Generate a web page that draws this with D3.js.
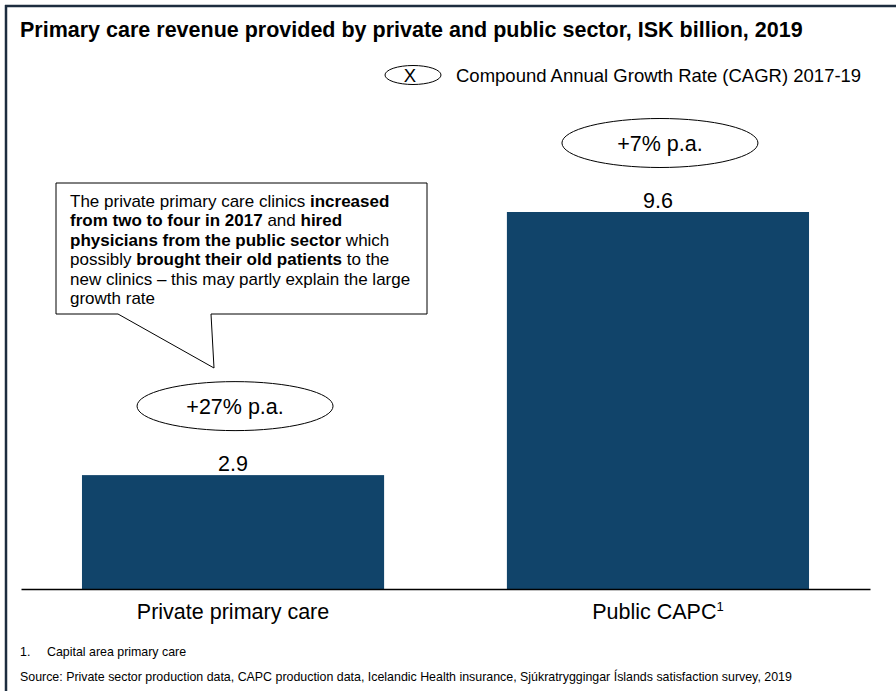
<!DOCTYPE html>
<html>
<head>
<meta charset="utf-8">
<script src="https://cdn.jsdelivr.net/npm/d3@7"></script>
<style>
  html, body { margin: 0; padding: 0; background: #fff; }
  svg { display: block; font-family: "Liberation Sans", Arial, sans-serif; }
</style>
</head>
<body>
<svg id="chart" width="896" height="691"></svg>
<script>
// Revenue by provider, ISK billion, 2019
const categories = ["Private primary care", "Public CAPC"];
const revenue = [2.9, 9.6];
const cagrLabels = ["+27% p.a.", "+7% p.a."];
const valueLabels = ["2.9", "9.6"];
const footnoteMarks = ["", "1"];

const W = 896, H = 691;
const svg = d3.select("#chart");
const navy = "#11446a";
const frame = "#1d2d3f";

// frame lines (top and left)
svg.append("line").attr("x1", 5).attr("x2", W).attr("y1", 6).attr("y2", 6)
  .attr("stroke", frame).attr("stroke-width", 2.5);
svg.append("line").attr("x1", 6).attr("x2", 6).attr("y1", 5).attr("y2", H)
  .attr("stroke", frame).attr("stroke-width", 2.5);

// title
svg.append("text").attr("x", 20).attr("y", 37)
  .attr("font-size", 21.5).attr("font-weight", "bold").attr("fill", "#000")
  .text("Primary care revenue provided by private and public sector, ISK billion, 2019");

// legend
svg.append("ellipse").attr("cx", 413).attr("cy", 75).attr("rx", 28).attr("ry", 9.5)
  .attr("fill", "none").attr("stroke", "#000").attr("stroke-width", 1);
svg.append("text").attr("x", 410).attr("y", 81.5).attr("text-anchor", "middle")
  .attr("font-size", 18.5).text("X");
svg.append("text").attr("x", 456).attr("y", 81.5)
  .attr("font-size", 18.5).text("Compound Annual Growth Rate (CAGR) 2017-19");

// scales
const x = d3.scaleBand().domain(categories).range([21, 870])
  .paddingInner(0.289).paddingOuter(0.1435);
const y = d3.scaleLinear().domain([0, 9.6]).range([589, 212]);

// bars
svg.append("g").selectAll("rect").data(categories).join("rect")
  .attr("x", d => x(d))
  .attr("y", (d, i) => y(revenue[i]))
  .attr("width", x.bandwidth())
  .attr("height", (d, i) => y(0) - y(revenue[i]))
  .attr("fill", navy);

// baseline axis
const axis = svg.append("g").attr("transform", `translate(0,${y(0)})`)
  .call(d3.axisBottom(x).tickSize(0).tickFormat(""));
axis.select(".domain").attr("stroke", "#000").attr("stroke-width", 1.5);

// category labels
const catText = svg.append("g").selectAll("text").data(categories).join("text")
  .attr("x", d => x(d) + x.bandwidth() / 2)
  .attr("y", y(0) + 30)
  .attr("text-anchor", "middle")
  .attr("font-size", 21.5);
catText.append("tspan").text(d => d);
catText.append("tspan").attr("font-size", 13).attr("dy", -8)
  .text((d, i) => footnoteMarks[i]);

// value labels
svg.append("g").selectAll("text").data(categories).join("text")
  .attr("x", d => x(d) + x.bandwidth() / 2)
  .attr("y", (d, i) => y(revenue[i]) - 4.5)
  .attr("text-anchor", "middle")
  .attr("font-size", 21.5)
  .text((d, i) => valueLabels[i]);

// CAGR ellipses
const cagr = svg.append("g").selectAll("g").data(categories).join("g")
  .attr("transform", (d, i) => `translate(${x(d) + x.bandwidth() / 2 + 2},${y(revenue[i]) - 69})`);
cagr.append("ellipse").attr("rx", 98).attr("ry", 24.5)
  .attr("fill", "#fff").attr("stroke", "#000").attr("stroke-width", 1);
cagr.append("text").attr("text-anchor", "middle").attr("y", 7.5)
  .attr("font-size", 21.5).text((d, i) => cagrLabels[i]);

// callout box with tail
const callout = svg.append("g");
callout.append("path")
  .attr("d", "M56,183 L427,183 L427,314 L211,314 L214,368 L118,314 L56,314 Z")
  .attr("fill", "#fff").attr("stroke", "#000").attr("stroke-width", 1);
const calloutLines = [
  [["The private primary care clinics ", false], ["increased", true]],
  [["from two to four in 2017", true], [" and ", false], ["hired", true]],
  [["physicians from the public sector", true], [" which", false]],
  [["possibly ", false], ["brought their old patients", true], [" to the", false]],
  [["new clinics \u2013 this may partly explain the large", false]],
  [["growth rate", false]]
];
calloutLines.forEach((segs, i) => {
  const t = callout.append("text").attr("x", 70).attr("y", 207 + i * 19.4)
    .attr("font-size", 17).attr("fill", "#000");
  segs.forEach(([s, b]) => t.append("tspan")
    .attr("font-weight", b ? "bold" : "normal").text(s));
});

// footnotes
svg.append("text").attr("x", 20).attr("y", 655.5).attr("font-size", 12.4).text("1.");
svg.append("text").attr("x", 47).attr("y", 655.5).attr("font-size", 12.4)
  .text("Capital area primary care");
svg.append("text").attr("x", 20).attr("y", 680.5).attr("font-size", 12.4)
  .text("Source: Private sector production data, CAPC production data, Icelandic Health insurance, Sj\u00fakratryggingar \u00cdslands satisfaction survey, 2019");
</script>
</body>
</html>
